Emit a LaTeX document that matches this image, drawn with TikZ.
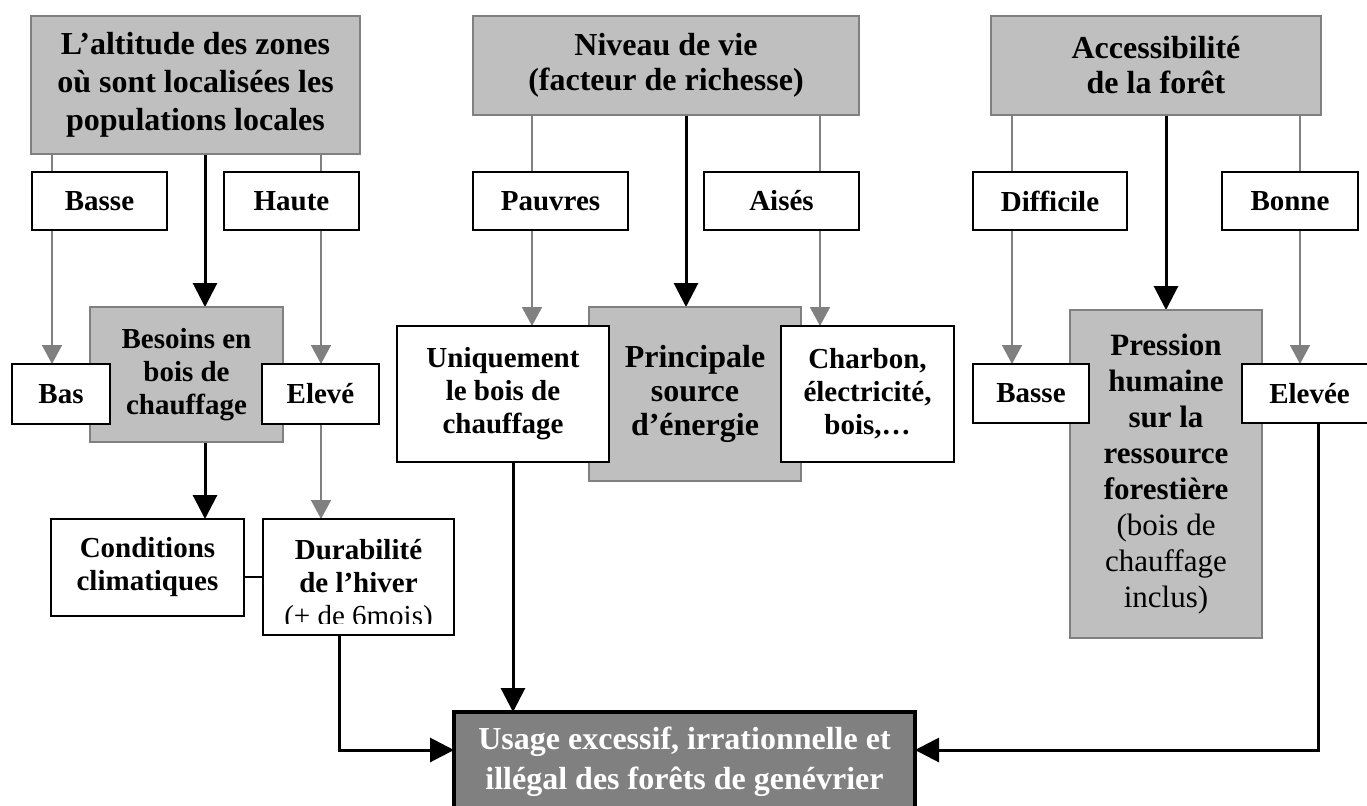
\documentclass[tikz,border=0pt]{standalone}
\usepackage{fontspec}
\setmainfont{Liberation Serif}
\usetikzlibrary{arrows.meta,calc}
\pgfdeclarelayer{bg}
\pgfsetlayers{bg,main}
\tikzset{
  gbox/.style={draw=black!50, line width=1.3pt, fill=black!25, inner sep=0pt, outer sep=0pt, align=center},
  wbox/.style={draw=black, line width=0.85pt, fill=white, inner sep=0pt, outer sep=0pt, align=center},
  ubox/.style={draw=black, line width=1.6pt, fill=black!50, text=white, inner sep=0pt, outer sep=0pt, align=center},
  bigtxt/.style={font=\fontsize{16}{18}\selectfont\bfseries},
  smalltxt/.style={font=\fontsize{14.5}{16.5}\selectfont\bfseries},
  garrow/.style={draw=black!50, color=black!50, line width=0.75pt, -{Triangle[length=9.5pt,width=10pt]}},
  barrow/.style={draw=black, line width=1.5pt, -{Triangle[length=12pt,width=12pt]}},
  bline/.style={draw=black, line width=1pt},
  plaintxt/.style={inner sep=0pt, outer sep=0pt, align=center}
}
\begin{document}
\begin{tikzpicture}[x=0.5pt,y=-0.5pt]
\useasboundingbox (0,0) rectangle (1367,805);
% helper coordinates
\coordinate (xA) at (52,0);
\coordinate (xB) at (321,0);
\coordinate (xC) at (205,0);
\coordinate (xD) at (339,0);
\coordinate (xE) at (532,0);
\coordinate (xF) at (686,0);
\coordinate (xG) at (820,0);
\coordinate (xH) at (513,0);
\coordinate (xI) at (1012,0);
\coordinate (xJ) at (1166,0);
\coordinate (xK) at (1300,0);
\coordinate (xL) at (1318,0);
\coordinate (yM) at (0,750);
\coordinate (yN) at (0,577);

% ---- gray boxes ----
\node[gbox, font=\fontsize{16}{19}\selectfont\bfseries, minimum width=164.5pt, minimum height=69pt] (alt) at (195.5,85)
  {L’altitude des zones\\où sont localisées les\\populations locales};
\node[gbox, smalltxt, minimum width=96.5pt, minimum height=67.5pt] (besoins) at (186.5,374.5)
  {Besoins en\\bois de\\chauffage};
\node[gbox, font=\fontsize{16}{17.5}\selectfont\bfseries, minimum width=193pt, minimum height=49.5pt] (niveau) at (666,65.5)
  {Niveau de vie\\(facteur de richesse)};
\node[gbox, font=\fontsize{16}{17}\selectfont\bfseries, minimum width=106pt, minimum height=87pt] (princ) at (695,394)
  {Principale\\source\\d’énergie};
\node[gbox, font=\fontsize{16}{17.5}\selectfont\bfseries, minimum width=165pt, minimum height=49.5pt] (acc) at (1156,65.5)
  {Accessibilité\\de la forêt};
\node[gbox, font=\fontsize{15.5}{18}\selectfont\bfseries, minimum width=96pt, minimum height=164pt] (press) at (1166,474)
  {Pression\\humaine\\sur la\\ressource\\forestière\\\textmd{(bois de}\\\textmd{chauffage}\\\textmd{inclus)}};

% ---- white boxes ----
\node[wbox, smalltxt, minimum width=67.5pt, minimum height=29pt] (basse1) at (99.5,201) {Basse};
\node[wbox, smalltxt, minimum width=67.5pt, minimum height=29pt] (haute) at (291.5,201) {Haute};
\node[wbox, smalltxt, minimum width=49pt, minimum height=30pt] (bas) at (61,394) {Bas};
\node[wbox, smalltxt, minimum width=58.5pt, minimum height=30pt] (eleve) at (320.5,394) {Elevé};
\node[wbox, smalltxt, minimum width=96.5pt, minimum height=48.5pt] (cond) at (147.5,567.5) {Conditions\\climatiques};
\node[wbox, minimum width=95.5pt, minimum height=58pt] (dur) at (358.5,577) {};
\begin{scope}
  \clip (dur.north west) rectangle ($(dur.south east)+(0,-12)$);
  \node[plaintxt, smalltxt] (durtxt) at (358.5,585) {Durabilité\\de l’hiver\\\textmd{(+ de 6mois)}};
\end{scope}
\node[wbox, smalltxt, minimum width=77.5pt, minimum height=29pt] (pauvres) at (550.5,201) {Pauvres};
\node[wbox, smalltxt, minimum width=77.5pt, minimum height=29pt] (aises) at (781.5,201) {Aisés};
\node[wbox, smalltxt, minimum width=106pt, minimum height=68pt] (uniq) at (503,394) {Uniquement\\le bois de\\chauffage};
\node[wbox, smalltxt, minimum width=86.5pt, minimum height=68pt] (charbon) at (867.5,394) {Charbon,\\électricité,\\bois,…};
\node[wbox, smalltxt, minimum width=77pt, minimum height=29pt] (diff) at (1050,201) {Difficile};
\node[wbox, smalltxt, minimum width=68pt, minimum height=29pt] (bonne) at (1290,201) {Bonne};
\node[wbox, smalltxt, minimum width=58pt, minimum height=29.5pt] (basse2) at (1031,393.5) {Basse};
\node[wbox, smalltxt, minimum width=67.5pt, minimum height=29.5pt] (elevee) at (1309.5,393.5) {Elevée};

% ---- final box ----
\node[ubox, font=\fontsize{16}{20}\selectfont\bfseries, minimum width=230.5pt, minimum height=50pt] (usage) at (684.5,762)
  {Usage excessif, irrationnelle et\\illégal des forêts de genévrier};

% ---- connectors ----
\begin{pgfonlayer}{bg}
  \draw[garrow] (alt.south -| xA) -- (bas.north -| xA);
  \draw[garrow] (alt.south -| xB) -- (eleve.north -| xB);
  \draw[barrow] (alt.south -| xC) -- (besoins.north -| xC);
  \draw[barrow] (besoins.south -| xC) -- (cond.north -| xC);
  \draw[garrow] (eleve.south -| xB) -- (dur.north -| xB);
  \draw[bline] (cond.east |- yN) -- (dur.west |- yN);
  \draw[garrow] (niveau.south -| xE) -- (uniq.north -| xE);
  \draw[garrow] (niveau.south -| xG) -- (charbon.north -| xG);
  \draw[barrow] (niveau.south -| xF) -- (princ.north -| xF);
  \draw[barrow] (uniq.south -| xH) -- (usage.north -| xH);
  \draw[barrow] (dur.south -| xD) |- (usage.west |- yM);
  \draw[garrow] (acc.south -| xI) -- (basse2.north -| xI);
  \draw[garrow] (acc.south -| xK) -- (elevee.north -| xK);
  \draw[barrow] (acc.south -| xJ) -- (press.north -| xJ);
  \draw[barrow] (elevee.south -| xL) |- (usage.east |- yM);
\end{pgfonlayer}
\end{tikzpicture}
\end{document}
